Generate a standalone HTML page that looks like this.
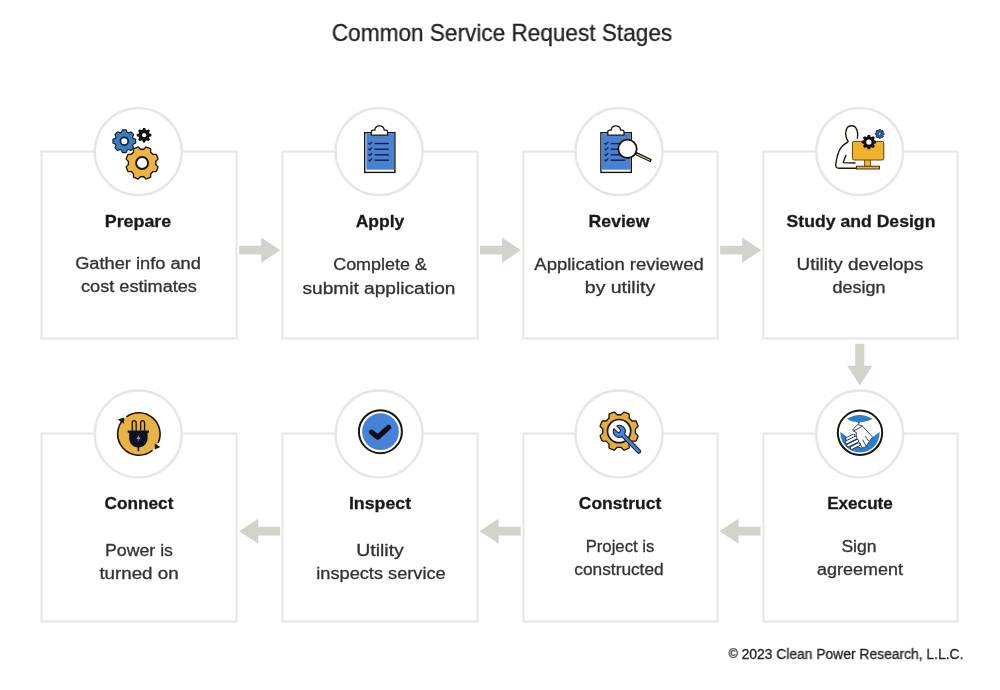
<!DOCTYPE html>
<html><head><meta charset="utf-8">
<style>
html,body{margin:0;padding:0;background:#fff;}
body{width:1000px;height:690px;position:relative;overflow:hidden;font-family:"Liberation Sans",sans-serif;}
svg.bg{position:absolute;left:0;top:0;}
.t{position:absolute;width:400px;text-align:center;line-height:1;white-space:nowrap;transform-origin:50% 50%;-webkit-text-stroke:0.3px currentColor;will-change:transform;}
</style></head><body>
<svg class="bg" width="1000" height="690" viewBox="0 0 1000 690">
<rect x="41.5" y="151.5" width="195" height="187" fill="#fff" stroke="#e8e8e7" stroke-width="2.2"/>
<rect x="282.5" y="151.5" width="195" height="187" fill="#fff" stroke="#e8e8e7" stroke-width="2.2"/>
<rect x="523.5" y="151.5" width="194" height="187" fill="#fff" stroke="#e8e8e7" stroke-width="2.2"/>
<rect x="763.5" y="151.5" width="194" height="187" fill="#fff" stroke="#e8e8e7" stroke-width="2.2"/>
<rect x="41.5" y="433.5" width="195" height="188" fill="#fff" stroke="#e8e8e7" stroke-width="2.2"/>
<rect x="282.5" y="433.5" width="195" height="188" fill="#fff" stroke="#e8e8e7" stroke-width="2.2"/>
<rect x="523.5" y="433.5" width="194" height="188" fill="#fff" stroke="#e8e8e7" stroke-width="2.2"/>
<rect x="763.5" y="433.5" width="194" height="188" fill="#fff" stroke="#e8e8e7" stroke-width="2.2"/>
<circle cx="138.25" cy="151.6" r="43.5" fill="#fff" stroke="#e6e6e4" stroke-width="2.3"/>
<circle cx="379.1" cy="151.6" r="43.5" fill="#fff" stroke="#e6e6e4" stroke-width="2.3"/>
<circle cx="619.0" cy="151.6" r="43.5" fill="#fff" stroke="#e6e6e4" stroke-width="2.3"/>
<circle cx="859.7" cy="151.6" r="43.5" fill="#fff" stroke="#e6e6e4" stroke-width="2.3"/>
<circle cx="138.25" cy="434.0" r="43.5" fill="#fff" stroke="#e6e6e4" stroke-width="2.3"/>
<circle cx="379.1" cy="434.0" r="43.5" fill="#fff" stroke="#e6e6e4" stroke-width="2.3"/>
<circle cx="619.0" cy="434.0" r="43.5" fill="#fff" stroke="#e6e6e4" stroke-width="2.3"/>
<circle cx="859.7" cy="434.0" r="43.5" fill="#fff" stroke="#e6e6e4" stroke-width="2.3"/>
<path d="M239.2,245.8 L261.2,245.8 L261.2,237.6 L280.2,250.2 L261.2,262.8 L261.2,254.6 L239.2,254.6 Z" fill="#d3d2cb"/>
<path d="M480.0,245.8 L502.0,245.8 L502.0,237.6 L521.0,250.2 L502.0,262.8 L502.0,254.6 L480.0,254.6 Z" fill="#d3d2cb"/>
<path d="M720.2,245.8 L742.2,245.8 L742.2,237.6 L761.2,250.2 L742.2,262.8 L742.2,254.6 L720.2,254.6 Z" fill="#d3d2cb"/>
<path d="M280.2,526.8 L258.2,526.8 L258.2,518.6 L239.2,531.2 L258.2,543.8 L258.2,535.6 L280.2,535.6 Z" fill="#d3d2cb"/>
<path d="M520.7,526.8 L498.7,526.8 L498.7,518.6 L479.7,531.2 L498.7,543.8 L498.7,535.6 L520.7,535.6 Z" fill="#d3d2cb"/>
<path d="M760.6,526.8 L738.6,526.8 L738.6,518.6 L719.6,531.2 L738.6,543.8 L738.6,535.6 L760.6,535.6 Z" fill="#d3d2cb"/>
<path d="M855.3,343.8 L864.3,343.8 L864.3,365.8 L872.4,365.8 L859.8,385.2 L847.2,365.8 L855.3,365.8 Z" fill="#d3d2cb"/>
<g fill="#0f1e33" stroke="#0f1e33" stroke-width="2.30" stroke-linejoin="round"><circle cx="124.30" cy="141.20" r="8.80"/><path d="M121.60,133.60 L122.80,130.40 L125.80,130.40 L127.00,133.60Z" transform="rotate(0.00 124.30 141.20)"/><path d="M121.60,133.60 L122.80,130.40 L125.80,130.40 L127.00,133.60Z" transform="rotate(45.00 124.30 141.20)"/><path d="M121.60,133.60 L122.80,130.40 L125.80,130.40 L127.00,133.60Z" transform="rotate(90.00 124.30 141.20)"/><path d="M121.60,133.60 L122.80,130.40 L125.80,130.40 L127.00,133.60Z" transform="rotate(135.00 124.30 141.20)"/><path d="M121.60,133.60 L122.80,130.40 L125.80,130.40 L127.00,133.60Z" transform="rotate(180.00 124.30 141.20)"/><path d="M121.60,133.60 L122.80,130.40 L125.80,130.40 L127.00,133.60Z" transform="rotate(225.00 124.30 141.20)"/><path d="M121.60,133.60 L122.80,130.40 L125.80,130.40 L127.00,133.60Z" transform="rotate(270.00 124.30 141.20)"/><path d="M121.60,133.60 L122.80,130.40 L125.80,130.40 L127.00,133.60Z" transform="rotate(315.00 124.30 141.20)"/></g><g fill="#3b7dbd" stroke="#3b7dbd" stroke-width="0.01" stroke-linejoin="round"><circle cx="124.30" cy="141.20" r="8.80"/><path d="M121.60,133.60 L122.80,130.40 L125.80,130.40 L127.00,133.60Z" transform="rotate(0.00 124.30 141.20)"/><path d="M121.60,133.60 L122.80,130.40 L125.80,130.40 L127.00,133.60Z" transform="rotate(45.00 124.30 141.20)"/><path d="M121.60,133.60 L122.80,130.40 L125.80,130.40 L127.00,133.60Z" transform="rotate(90.00 124.30 141.20)"/><path d="M121.60,133.60 L122.80,130.40 L125.80,130.40 L127.00,133.60Z" transform="rotate(135.00 124.30 141.20)"/><path d="M121.60,133.60 L122.80,130.40 L125.80,130.40 L127.00,133.60Z" transform="rotate(180.00 124.30 141.20)"/><path d="M121.60,133.60 L122.80,130.40 L125.80,130.40 L127.00,133.60Z" transform="rotate(225.00 124.30 141.20)"/><path d="M121.60,133.60 L122.80,130.40 L125.80,130.40 L127.00,133.60Z" transform="rotate(270.00 124.30 141.20)"/><path d="M121.60,133.60 L122.80,130.40 L125.80,130.40 L127.00,133.60Z" transform="rotate(315.00 124.30 141.20)"/></g><circle cx="124.30" cy="141.20" r="3.90" fill="#fff" stroke="#0f1e33" stroke-width="1.70"/>
<g fill="#111" stroke="#111" stroke-width="0.01" stroke-linejoin="round"><circle cx="144.10" cy="135.20" r="5.60"/><path d="M142.20,130.80 L143.00,127.90 L145.20,127.90 L146.00,130.80Z" transform="rotate(0.00 144.10 135.20)"/><path d="M142.20,130.80 L143.00,127.90 L145.20,127.90 L146.00,130.80Z" transform="rotate(45.00 144.10 135.20)"/><path d="M142.20,130.80 L143.00,127.90 L145.20,127.90 L146.00,130.80Z" transform="rotate(90.00 144.10 135.20)"/><path d="M142.20,130.80 L143.00,127.90 L145.20,127.90 L146.00,130.80Z" transform="rotate(135.00 144.10 135.20)"/><path d="M142.20,130.80 L143.00,127.90 L145.20,127.90 L146.00,130.80Z" transform="rotate(180.00 144.10 135.20)"/><path d="M142.20,130.80 L143.00,127.90 L145.20,127.90 L146.00,130.80Z" transform="rotate(225.00 144.10 135.20)"/><path d="M142.20,130.80 L143.00,127.90 L145.20,127.90 L146.00,130.80Z" transform="rotate(270.00 144.10 135.20)"/><path d="M142.20,130.80 L143.00,127.90 L145.20,127.90 L146.00,130.80Z" transform="rotate(315.00 144.10 135.20)"/></g><circle cx="144.10" cy="135.20" r="2.10" fill="#fff"/>
<g fill="#1c1408" stroke="#1c1408" stroke-width="2.60" stroke-linejoin="round"><circle cx="142.10" cy="163.00" r="13.10"/><path d="M138.50,151.10 L140.00,147.30 L144.20,147.30 L145.70,151.10Z" transform="rotate(22.50 142.10 163.00)"/><path d="M138.50,151.10 L140.00,147.30 L144.20,147.30 L145.70,151.10Z" transform="rotate(67.50 142.10 163.00)"/><path d="M138.50,151.10 L140.00,147.30 L144.20,147.30 L145.70,151.10Z" transform="rotate(112.50 142.10 163.00)"/><path d="M138.50,151.10 L140.00,147.30 L144.20,147.30 L145.70,151.10Z" transform="rotate(157.50 142.10 163.00)"/><path d="M138.50,151.10 L140.00,147.30 L144.20,147.30 L145.70,151.10Z" transform="rotate(202.50 142.10 163.00)"/><path d="M138.50,151.10 L140.00,147.30 L144.20,147.30 L145.70,151.10Z" transform="rotate(247.50 142.10 163.00)"/><path d="M138.50,151.10 L140.00,147.30 L144.20,147.30 L145.70,151.10Z" transform="rotate(292.50 142.10 163.00)"/><path d="M138.50,151.10 L140.00,147.30 L144.20,147.30 L145.70,151.10Z" transform="rotate(337.50 142.10 163.00)"/></g><g fill="#ecb444" stroke="#ecb444" stroke-width="0.01" stroke-linejoin="round"><circle cx="142.10" cy="163.00" r="13.10"/><path d="M138.50,151.10 L140.00,147.30 L144.20,147.30 L145.70,151.10Z" transform="rotate(22.50 142.10 163.00)"/><path d="M138.50,151.10 L140.00,147.30 L144.20,147.30 L145.70,151.10Z" transform="rotate(67.50 142.10 163.00)"/><path d="M138.50,151.10 L140.00,147.30 L144.20,147.30 L145.70,151.10Z" transform="rotate(112.50 142.10 163.00)"/><path d="M138.50,151.10 L140.00,147.30 L144.20,147.30 L145.70,151.10Z" transform="rotate(157.50 142.10 163.00)"/><path d="M138.50,151.10 L140.00,147.30 L144.20,147.30 L145.70,151.10Z" transform="rotate(202.50 142.10 163.00)"/><path d="M138.50,151.10 L140.00,147.30 L144.20,147.30 L145.70,151.10Z" transform="rotate(247.50 142.10 163.00)"/><path d="M138.50,151.10 L140.00,147.30 L144.20,147.30 L145.70,151.10Z" transform="rotate(292.50 142.10 163.00)"/><path d="M138.50,151.10 L140.00,147.30 L144.20,147.30 L145.70,151.10Z" transform="rotate(337.50 142.10 163.00)"/></g><circle cx="142.10" cy="163.00" r="6.00" fill="#fff" stroke="#1c1408" stroke-width="1.90"/>
<rect x="364.7" y="132.7" width="30.2" height="39.7" fill="#fff" stroke="#1c1408" stroke-width="1.4"/>
<rect x="366.3" y="133.39999999999998" width="27.899999999999977" height="36.300000000000004" fill="#4a82d3"/>
<path d="M371.4,135.2 L371.4,131.8 Q371.4,130.2 373.09999999999997,130.2 L374.79999999999995,130.2 C375.0,127.4 377.0,125.9 379.5,125.9 C382.0,125.9 384.0,127.4 384.2,130.2 L385.9,130.2 Q387.59999999999997,130.2 387.59999999999997,131.8 L387.59999999999997,135.2 Z" transform="translate(0.0,0.0)" fill="#fff" stroke="#1c1408" stroke-width="1.3" stroke-linejoin="round"/>
<path d="M368.4,143.0 l1.3,1.4 l2.4,-2.6" transform="translate(0.0,0.0)" fill="none" stroke="#152041" stroke-width="1.2"/>
<line x1="374.6" y1="143.6" x2="389.0" y2="143.6" stroke="#152041" stroke-width="1.4"/>
<path d="M368.4,148.6 l1.3,1.4 l2.4,-2.6" transform="translate(0.0,0.0)" fill="none" stroke="#152041" stroke-width="1.2"/>
<line x1="374.6" y1="149.2" x2="389.0" y2="149.2" stroke="#152041" stroke-width="1.4"/>
<path d="M368.4,154.20000000000002 l1.3,1.4 l2.4,-2.6" transform="translate(0.0,0.0)" fill="none" stroke="#152041" stroke-width="1.2"/>
<line x1="374.6" y1="154.8" x2="389.0" y2="154.8" stroke="#152041" stroke-width="1.4"/>
<path d="M368.4,159.6 l1.3,1.4 l2.4,-2.6" transform="translate(0.0,0.0)" fill="none" stroke="#152041" stroke-width="1.2"/>
<line x1="374.6" y1="160.2" x2="389.0" y2="160.2" stroke="#152041" stroke-width="1.4"/>
<rect x="600.9" y="132.7" width="30.4" height="39.7" fill="#fff" stroke="#1c1408" stroke-width="1.4"/>
<rect x="601.6" y="133.39999999999998" width="28.999999999999886" height="36.300000000000004" fill="#4a82d3"/>
<path d="M607.8,135.2 L607.8,131.8 Q607.8,130.2 609.5,130.2 L611.1999999999999,130.2 C611.4,127.4 613.4,125.9 615.9,125.9 C618.4,125.9 620.4,127.4 620.5999999999999,130.2 L622.3,130.2 Q624.0,130.2 624.0,131.8 L624.0,135.2 Z" transform="translate(0.0,0.0)" fill="#fff" stroke="#1c1408" stroke-width="1.3" stroke-linejoin="round"/>
<path d="M604.6,143.0 l1.3,1.4 l2.4,-2.6" transform="translate(0.0,0.0)" fill="none" stroke="#152041" stroke-width="1.2"/>
<line x1="610.6" y1="143.6" x2="625.2" y2="143.6" stroke="#152041" stroke-width="1.4"/>
<path d="M604.6,148.6 l1.3,1.4 l2.4,-2.6" transform="translate(0.0,0.0)" fill="none" stroke="#152041" stroke-width="1.2"/>
<line x1="610.6" y1="149.2" x2="625.2" y2="149.2" stroke="#152041" stroke-width="1.4"/>
<path d="M604.6,154.20000000000002 l1.3,1.4 l2.4,-2.6" transform="translate(0.0,0.0)" fill="none" stroke="#152041" stroke-width="1.2"/>
<line x1="610.6" y1="154.8" x2="625.2" y2="154.8" stroke="#152041" stroke-width="1.4"/>
<path d="M604.6,159.6 l1.3,1.4 l2.4,-2.6" transform="translate(0.0,0.0)" fill="none" stroke="#152041" stroke-width="1.2"/>
<line x1="610.6" y1="160.2" x2="625.2" y2="160.2" stroke="#152041" stroke-width="1.4"/>
<path d="M636.43,152.7 L651.03,159.7 L650.17,161.5 L635.57,154.5 Z" transform="translate(0.0,0.0)" fill="#fff" stroke="#1c1408" stroke-width="1.3" stroke-linejoin="round"/>
<circle cx="627.5" cy="148.8" r="9.2" fill="#fff" stroke="#1c1408" stroke-width="1.8"/>
<path d="M857.4,138.4 C858.4,133 857.2,125.7 851.7,125.7 C846.2,125.7 844.7,131.8 846.2,137.3 C846.8,139.6 848.2,141.4 848.2,141.4 C846.4,143.2 843.4,144.6 841,147.6 C838.4,151.2 836.6,158 835.8,163.8 C835.4,166.6 836.4,168.2 839,168.2 L857,168.2" transform="translate(0.0,0.0)" fill="none" stroke="#1c1408" stroke-width="1.35" stroke-linecap="round" stroke-linejoin="round"/>
<path d="M845.8,155.4 L843.2,162.6 L855,163" transform="translate(0.0,0.0)" fill="none" stroke="#1c1408" stroke-width="1.35" stroke-linecap="round" stroke-linejoin="round"/>
<rect x="864.4" y="159.4" width="6.2" height="7.4" transform="translate(0.0,0.0)" fill="#f0b22c" stroke="#5a4210" stroke-width="0.8"/>
<rect x="852.4" y="141.4" width="31.4" height="18.6" rx="1.6" transform="translate(0.0,0.0)" fill="#f0b22c" stroke="#4a360c" stroke-width="0.9"/>
<rect x="856.4" y="166.2" width="23" height="2.8" transform="translate(0.0,0.0)" fill="#f0b22c" stroke="#2a200c" stroke-width="0.9"/>
<g fill="#111" stroke="#111" stroke-width="0.01" stroke-linejoin="round"><circle cx="868.90" cy="142.10" r="5.60"/><path d="M866.90,137.70 L867.70,134.90 L870.10,134.90 L870.90,137.70Z" transform="rotate(0.00 868.90 142.10)"/><path d="M866.90,137.70 L867.70,134.90 L870.10,134.90 L870.90,137.70Z" transform="rotate(45.00 868.90 142.10)"/><path d="M866.90,137.70 L867.70,134.90 L870.10,134.90 L870.90,137.70Z" transform="rotate(90.00 868.90 142.10)"/><path d="M866.90,137.70 L867.70,134.90 L870.10,134.90 L870.90,137.70Z" transform="rotate(135.00 868.90 142.10)"/><path d="M866.90,137.70 L867.70,134.90 L870.10,134.90 L870.90,137.70Z" transform="rotate(180.00 868.90 142.10)"/><path d="M866.90,137.70 L867.70,134.90 L870.10,134.90 L870.90,137.70Z" transform="rotate(225.00 868.90 142.10)"/><path d="M866.90,137.70 L867.70,134.90 L870.10,134.90 L870.90,137.70Z" transform="rotate(270.00 868.90 142.10)"/><path d="M866.90,137.70 L867.70,134.90 L870.10,134.90 L870.90,137.70Z" transform="rotate(315.00 868.90 142.10)"/></g><circle cx="868.90" cy="142.10" r="2.60" fill="#fff"/>
<g fill="#10243a" stroke="#10243a" stroke-width="1.00" stroke-linejoin="round"><circle cx="879.70" cy="133.90" r="3.30"/><path d="M878.50,131.80 L878.95,129.60 L880.45,129.60 L880.90,131.80Z" transform="rotate(0.00 879.70 133.90)"/><path d="M878.50,131.80 L878.95,129.60 L880.45,129.60 L880.90,131.80Z" transform="rotate(45.00 879.70 133.90)"/><path d="M878.50,131.80 L878.95,129.60 L880.45,129.60 L880.90,131.80Z" transform="rotate(90.00 879.70 133.90)"/><path d="M878.50,131.80 L878.95,129.60 L880.45,129.60 L880.90,131.80Z" transform="rotate(135.00 879.70 133.90)"/><path d="M878.50,131.80 L878.95,129.60 L880.45,129.60 L880.90,131.80Z" transform="rotate(180.00 879.70 133.90)"/><path d="M878.50,131.80 L878.95,129.60 L880.45,129.60 L880.90,131.80Z" transform="rotate(225.00 879.70 133.90)"/><path d="M878.50,131.80 L878.95,129.60 L880.45,129.60 L880.90,131.80Z" transform="rotate(270.00 879.70 133.90)"/><path d="M878.50,131.80 L878.95,129.60 L880.45,129.60 L880.90,131.80Z" transform="rotate(315.00 879.70 133.90)"/></g><g fill="#2a5f95" stroke="#2a5f95" stroke-width="0.01" stroke-linejoin="round"><circle cx="879.70" cy="133.90" r="3.30"/><path d="M878.50,131.80 L878.95,129.60 L880.45,129.60 L880.90,131.80Z" transform="rotate(0.00 879.70 133.90)"/><path d="M878.50,131.80 L878.95,129.60 L880.45,129.60 L880.90,131.80Z" transform="rotate(45.00 879.70 133.90)"/><path d="M878.50,131.80 L878.95,129.60 L880.45,129.60 L880.90,131.80Z" transform="rotate(90.00 879.70 133.90)"/><path d="M878.50,131.80 L878.95,129.60 L880.45,129.60 L880.90,131.80Z" transform="rotate(135.00 879.70 133.90)"/><path d="M878.50,131.80 L878.95,129.60 L880.45,129.60 L880.90,131.80Z" transform="rotate(180.00 879.70 133.90)"/><path d="M878.50,131.80 L878.95,129.60 L880.45,129.60 L880.90,131.80Z" transform="rotate(225.00 879.70 133.90)"/><path d="M878.50,131.80 L878.95,129.60 L880.45,129.60 L880.90,131.80Z" transform="rotate(270.00 879.70 133.90)"/><path d="M878.50,131.80 L878.95,129.60 L880.45,129.60 L880.90,131.80Z" transform="rotate(315.00 879.70 133.90)"/></g><circle cx="879.70" cy="133.90" r="1.40" fill="#cfe0ee" stroke="#10243a" stroke-width="0.70"/>
<circle cx="138.9" cy="434.0" r="21.2" fill="#e9b443"/>
<path d="M126.44,416.85 A21.2,21.2 0 0 1 158.11,442.96 M152.53,450.24 A21.2,21.2 0 0 1 124.17,418.75" transform="translate(0.0,0.0)" fill="none" stroke="#1c1408" stroke-width="1.6"/>
<path d="M117.7,419.6 L124.0,417.4 L124.0,423.8 Z" transform="translate(0.0,0.0)" fill="#1c1408"/>
<path d="M160.4,446.9 L154.8,449.4 L154.8,443.6 Z" transform="translate(0.0,0.0)" fill="#1c1408"/>
<path d="M132.2,430.8 L132.2,423 Q132.2,420.6 134.2,420.6 Q136.2,420.6 136.2,423 L136.2,430.8" transform="translate(0.0,0.0)" fill="#d9a94a" stroke="#1c1408" stroke-width="1.3"/>
<path d="M140.6,430.8 L140.6,423 Q140.6,420.6 142.6,420.6 Q144.6,420.6 144.6,423 L144.6,430.8" transform="translate(0.0,0.0)" fill="#d9a94a" stroke="#1c1408" stroke-width="1.3"/>
<path d="M127.6,430.4 L149,430.4 L149,432.4 L147.6,433 L147.6,438 C147.6,443.6 143.6,447.4 138.4,447.4 C133.2,447.4 129.2,443.6 129.2,438 L129.2,433 L127.6,432.4 Z" transform="translate(0.0,0.0)" fill="#0e1220"/>
<line x1="138.4" y1="446.0" x2="138.4" y2="451.2" stroke="#0e1220" stroke-width="1.6"/>
<path d="M139.4,434.4 L136.4,439 L138.6,439 L137.2,442.6 L140.6,437.6 L138.6,437.6 Z" transform="translate(0.0,0.0)" fill="#8ea6e6"/>
<circle cx="380.4" cy="431.7" r="21.5" fill="#fff" stroke="#1c1408" stroke-width="2.0"/>
<circle cx="380.5" cy="431.7" r="18.4" fill="#4682d7"/>
<path d="M371.6,432.2 L377.9,437.2 L388.6,427.4" transform="translate(0.0,0.0)" fill="none" stroke="#0c0c14" stroke-width="5.2" stroke-linecap="round" stroke-linejoin="round"/>
<g fill="#1c1408" stroke="#1c1408" stroke-width="2.60" stroke-linejoin="round"><circle cx="619.10" cy="431.10" r="15.70"/><path d="M614.90,416.60 L616.70,412.20 L621.50,412.20 L623.30,416.60Z" transform="rotate(22.50 619.10 431.10)"/><path d="M614.90,416.60 L616.70,412.20 L621.50,412.20 L623.30,416.60Z" transform="rotate(67.50 619.10 431.10)"/><path d="M614.90,416.60 L616.70,412.20 L621.50,412.20 L623.30,416.60Z" transform="rotate(112.50 619.10 431.10)"/><path d="M614.90,416.60 L616.70,412.20 L621.50,412.20 L623.30,416.60Z" transform="rotate(157.50 619.10 431.10)"/><path d="M614.90,416.60 L616.70,412.20 L621.50,412.20 L623.30,416.60Z" transform="rotate(202.50 619.10 431.10)"/><path d="M614.90,416.60 L616.70,412.20 L621.50,412.20 L623.30,416.60Z" transform="rotate(247.50 619.10 431.10)"/><path d="M614.90,416.60 L616.70,412.20 L621.50,412.20 L623.30,416.60Z" transform="rotate(292.50 619.10 431.10)"/><path d="M614.90,416.60 L616.70,412.20 L621.50,412.20 L623.30,416.60Z" transform="rotate(337.50 619.10 431.10)"/></g><g fill="#e4ad40" stroke="#e4ad40" stroke-width="0.01" stroke-linejoin="round"><circle cx="619.10" cy="431.10" r="15.70"/><path d="M614.90,416.60 L616.70,412.20 L621.50,412.20 L623.30,416.60Z" transform="rotate(22.50 619.10 431.10)"/><path d="M614.90,416.60 L616.70,412.20 L621.50,412.20 L623.30,416.60Z" transform="rotate(67.50 619.10 431.10)"/><path d="M614.90,416.60 L616.70,412.20 L621.50,412.20 L623.30,416.60Z" transform="rotate(112.50 619.10 431.10)"/><path d="M614.90,416.60 L616.70,412.20 L621.50,412.20 L623.30,416.60Z" transform="rotate(157.50 619.10 431.10)"/><path d="M614.90,416.60 L616.70,412.20 L621.50,412.20 L623.30,416.60Z" transform="rotate(202.50 619.10 431.10)"/><path d="M614.90,416.60 L616.70,412.20 L621.50,412.20 L623.30,416.60Z" transform="rotate(247.50 619.10 431.10)"/><path d="M614.90,416.60 L616.70,412.20 L621.50,412.20 L623.30,416.60Z" transform="rotate(292.50 619.10 431.10)"/><path d="M614.90,416.60 L616.70,412.20 L621.50,412.20 L623.30,416.60Z" transform="rotate(337.50 619.10 431.10)"/></g><circle cx="619.10" cy="431.10" r="11.60" fill="#fff" stroke="#1c1408" stroke-width="1.70"/>
<path d="M5.708,-1.85 L28.0,-1.85 A1.85,1.85 0 0 1 28.0,1.85 L5.708,1.85 A6.0,6.0 0 0 1 -5.674,1.95 L-1.0,1.95 A1.95,1.95 0 0 0 -1.0,-1.95 L-5.674,-1.95 A6.0,6.0 0 0 1 5.708,-1.85 Z" transform="translate(619.3,431.3) rotate(45.8)" fill="#4a80d4" stroke="#14224a" stroke-width="1.1" stroke-linejoin="round"/>
<circle cx="860.0" cy="432.8" r="22.2" fill="#fff" stroke="#1c1408" stroke-width="2"/>
<clipPath id="hc"><circle cx="860.0" cy="432.8" r="19.6"/></clipPath>
<g clip-path="url(#hc)">
<path d="M846.8,418.8 Q859.6,411.0 872.6,418.8 Q866.4,422.6 860.6,422.0 L858.4,424.4 L857.2,422.0 Q851.4,422.4 846.8,418.8 Z" transform="translate(0.0,0.0)" fill="#2a7fcc"/>
<path d="M838,429.6 Q860,452 882,429.6 L882,460 L838,460 Z" transform="translate(0.0,0.0)" fill="#2a7fcc"/>
</g>
<path d="M853.3,431.0 C852.5,430.2 852.9,429.2 853.7,428.6 L857.8,424.5 L862.4,426.0 L872.6,437.2 L869.2,441.8 L865.8,446.8 L861.4,448.4 L857.4,446.6 L855.6,441.4 L856.4,432.6 Z" transform="translate(0.0,0.0)" fill="#fff" stroke="#1b2f55" stroke-width="0.9" stroke-linejoin="round"/>
<path d="M853.6,431.0 L862.4,426.2" transform="translate(0.0,0.0)" fill="none" stroke="#1b2f55" stroke-width="0.9"/>
<line x1="847.2" y1="438.8" x2="853.6" y2="435.6" transform="translate(0.0,0.0)" stroke="#1b2f55" stroke-width="3.7" stroke-linecap="round"/>
<line x1="847.2" y1="438.8" x2="853.6" y2="435.6" transform="translate(0.0,0.0)" stroke="#fff" stroke-width="2.1" stroke-linecap="round"/>
<line x1="846.6" y1="442.2" x2="855.6" y2="437.8" transform="translate(0.0,0.0)" stroke="#1b2f55" stroke-width="3.7" stroke-linecap="round"/>
<line x1="846.6" y1="442.2" x2="855.6" y2="437.8" transform="translate(0.0,0.0)" stroke="#fff" stroke-width="2.1" stroke-linecap="round"/>
<line x1="848.2" y1="445.4" x2="857.2" y2="441.0" transform="translate(0.0,0.0)" stroke="#1b2f55" stroke-width="3.7" stroke-linecap="round"/>
<line x1="848.2" y1="445.4" x2="857.2" y2="441.0" transform="translate(0.0,0.0)" stroke="#fff" stroke-width="2.1" stroke-linecap="round"/>
<line x1="851.8" y1="447.8" x2="858.6" y2="444.4" transform="translate(0.0,0.0)" stroke="#1b2f55" stroke-width="3.7" stroke-linecap="round"/>
<line x1="851.8" y1="447.8" x2="858.6" y2="444.4" transform="translate(0.0,0.0)" stroke="#fff" stroke-width="2.1" stroke-linecap="round"/>
<path d="M865.2,436.2 L868.8,441.2 M862.6,439.6 L866.0,446.0 M859.8,442.4 L861.8,447.8" transform="translate(0.0,0.0)" fill="none" stroke="#1b2f55" stroke-width="0.9"/>
</svg>
<div class="t" id="t0" style="left:301.53px;top:21.00px;font-size:24px;font-weight:400;color:#222;transform:scaleX(0.9414)"><span>Common Service Request Stages</span></div>
<div class="t" id="t1" style="left:-61.61px;top:213.00px;font-size:17px;font-weight:700;color:#1a1a1a;transform:scaleX(1.0484)"><span>Prepare</span></div>
<div class="t" id="t2" style="left:179.88px;top:213.00px;font-size:17px;font-weight:700;color:#1a1a1a;transform:scaleX(1.0298)"><span>Apply</span></div>
<div class="t" id="t3" style="left:419.48px;top:213.00px;font-size:17px;font-weight:700;color:#1a1a1a;transform:scaleX(1.0386)"><span>Review</span></div>
<div class="t" id="t4" style="left:661.41px;top:213.00px;font-size:17px;font-weight:700;color:#1a1a1a;transform:scaleX(1.0366)"><span>Study and Design</span></div>
<div class="t" id="t5" style="left:-61.40px;top:495.00px;font-size:17px;font-weight:700;color:#1a1a1a;transform:scaleX(1.0118)"><span>Connect</span></div>
<div class="t" id="t6" style="left:180.30px;top:495.00px;font-size:17px;font-weight:700;color:#1a1a1a;transform:scaleX(1.0441)"><span>Inspect</span></div>
<div class="t" id="t7" style="left:419.76px;top:495.00px;font-size:17px;font-weight:700;color:#1a1a1a;transform:scaleX(1.0262)"><span>Construct</span></div>
<div class="t" id="t8" style="left:659.60px;top:495.00px;font-size:17px;font-weight:700;color:#1a1a1a;transform:scaleX(1.0063)"><span>Execute</span></div>
<div class="t" id="t9" style="left:-62.43px;top:256.00px;font-size:16px;font-weight:400;color:#333;transform:scaleX(1.1394)"><span>Gather info and</span></div>
<div class="t" id="t10" style="left:-61.07px;top:279.00px;font-size:16px;font-weight:400;color:#333;transform:scaleX(1.1333)"><span>cost estimates</span></div>
<div class="t" id="t11" style="left:179.54px;top:257.00px;font-size:16px;font-weight:400;color:#333;transform:scaleX(1.1193)"><span>Complete &amp;</span></div>
<div class="t" id="t12" style="left:179.22px;top:281.00px;font-size:16px;font-weight:400;color:#333;transform:scaleX(1.1937)"><span>submit application</span></div>
<div class="t" id="t13" style="left:419.32px;top:257.00px;font-size:16px;font-weight:400;color:#333;transform:scaleX(1.1541)"><span>Application reviewed</span></div>
<div class="t" id="t14" style="left:420.17px;top:280.00px;font-size:16px;font-weight:400;color:#333;transform:scaleX(1.2158)"><span>by utility</span></div>
<div class="t" id="t15" style="left:660.00px;top:257.00px;font-size:16px;font-weight:400;color:#333;transform:scaleX(1.1792)"><span>Utility develops</span></div>
<div class="t" id="t16" style="left:659.15px;top:280.00px;font-size:16px;font-weight:400;color:#333;transform:scaleX(1.1217)"><span>design</span></div>
<div class="t" id="t17" style="left:-60.78px;top:543.00px;font-size:16px;font-weight:400;color:#333;transform:scaleX(1.1083)"><span>Power is</span></div>
<div class="t" id="t18" style="left:-61.09px;top:566.00px;font-size:16px;font-weight:400;color:#333;transform:scaleX(1.1716)"><span>turned on</span></div>
<div class="t" id="t19" style="left:180.39px;top:543.00px;font-size:16px;font-weight:400;color:#333;transform:scaleX(1.2154)"><span>Utility</span></div>
<div class="t" id="t20" style="left:180.64px;top:566.00px;font-size:16px;font-weight:400;color:#333;transform:scaleX(1.1375)"><span>inspects service</span></div>
<div class="t" id="t21" style="left:420.09px;top:539.00px;font-size:16px;font-weight:400;color:#333;transform:scaleX(1.0431)"><span>Project is</span></div>
<div class="t" id="t22" style="left:419.27px;top:562.00px;font-size:16px;font-weight:400;color:#333;transform:scaleX(1.0793)"><span>constructed</span></div>
<div class="t" id="t23" style="left:658.95px;top:539.00px;font-size:16px;font-weight:400;color:#333;transform:scaleX(1.1000)"><span>Sign</span></div>
<div class="t" id="t24" style="left:659.58px;top:562.00px;font-size:16px;font-weight:400;color:#333;transform:scaleX(1.1211)"><span>agreement</span></div>
<div class="t" id="t25" style="left:645.50px;top:647.00px;font-size:14px;font-weight:400;color:#222;transform:scaleX(0.9895)"><span><span style="font-size:12.5px;position:relative;top:-1.5px">©</span> 2023 Clean Power Research, L.L.C.</span></div>
</body></html>
